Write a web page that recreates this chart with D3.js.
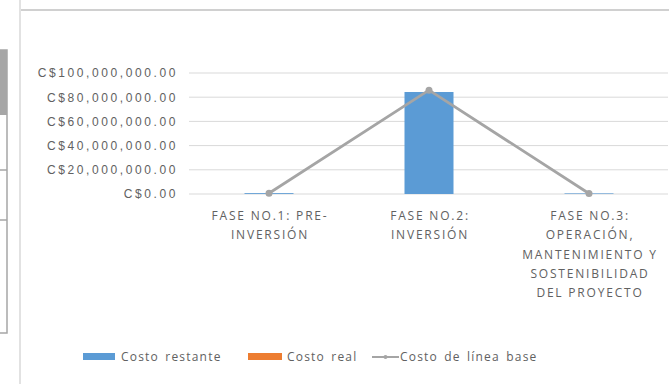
<!DOCTYPE html>
<html><head><meta charset="utf-8">
<script src="https://cdn.jsdelivr.net/npm/d3@7"></script>
<style>
html,body{margin:0;padding:0;background:#fff;}
svg{display:block;font-family:"Open Sans",sans-serif;}
</style></head>
<body>
<svg id="c" width="669" height="384"></svg>
<script>
const categories = ["FASE NO.1: PRE-INVERSIÓN","FASE NO.2: INVERSIÓN","FASE NO.3: OPERACIÓN, MANTENIMIENTO Y SOSTENIBILIDAD DEL PROYECTO"];
const categoryLabelLines = [
  ["FASE NO.1: PRE-","INVERSIÓN"],
  ["FASE NO.2:","INVERSIÓN"],
  ["FASE NO.3:","OPERACIÓN,","MANTENIMIENTO Y","SOSTENIBILIDAD","DEL PROYECTO"]
];
const costoRestante = [700000, 84300000, 500000];
const costoReal = [0, 0, 0];
const costoLineaBase = [600000, 85800000, 400000];
const yTicks = [0, 20000000, 40000000, 60000000, 80000000, 100000000];
const seriesNames = ["Costo restante","Costo real","Costo de línea base"];
const colors = ["#5b9bd5","#ed7d31","#a5a5a5"];

const svg = d3.select("#c");
const textColor = "#616161";

// outer frame / neighbouring element fragments
svg.append("line").attr("x1",20).attr("x2",20).attr("y1",0).attr("y2",384).attr("stroke","#d9d9d9").attr("stroke-width",1.5);
svg.append("line").attr("x1",21).attr("x2",669).attr("y1",10).attr("y2",10).attr("stroke","#d0d0d0").attr("stroke-width",2);
svg.append("rect").attr("x",-1).attr("y",50).attr("width",8).attr("height",283).attr("fill","#fff").attr("stroke","#a6a6a6").attr("stroke-width",1.5);
svg.append("rect").attr("x",-1).attr("y",50).attr("width",8).attr("height",65).attr("fill","#a6a6a6");
[170,220].forEach(yy=>svg.append("line").attr("x1",0).attr("x2",7).attr("y1",yy).attr("y2",yy).attr("stroke","#a6a6a6").attr("stroke-width",1.5));

const x = d3.scaleBand().domain(categories).range([189,669]).paddingInner(0).paddingOuter(0);
const y = d3.scaleLinear().domain([0,100000000]).range([194,73]);
const barW = 49;

// gridlines
svg.append("g").selectAll("line").data(yTicks).join("line")
  .attr("x1",189).attr("x2",668).attr("y1",d=>y(d)).attr("y2",d=>y(d))
  .attr("stroke","#d9d9d9").attr("stroke-width",1);

// y axis labels
const fmt = d => "C$" + d3.format(",.2f")(d);
const yAxis = d3.axisLeft(y).tickValues(yTicks).tickFormat(fmt).tickSize(0).tickPadding(0);
const gy = svg.append("g").attr("transform","translate(178,0)").call(yAxis);
gy.select(".domain").remove();
gy.selectAll("text").attr("fill",textColor).style("font-size","12px").style("letter-spacing","2.6px");

// stacked bars
const rows = categories.map((c,i)=>({cat:c, restante:costoRestante[i], real:costoReal[i]}));
const stack = d3.stack().keys(["restante","real"])(rows);
svg.append("g").selectAll("g").data(stack).join("g").attr("fill",(d,i)=>colors[i])
  .selectAll("rect").data(d=>d).join("rect")
  .attr("x",d=>x(d.data.cat)+x.bandwidth()/2-barW/2)
  .attr("width",barW)
  .attr("y",d=>y(d[1]))
  .attr("height",d=>Math.max(0,y(d[0])-y(d[1])) || (d[1]>d[0]?1.5:0));

// baseline line
const pts = categories.map((c,i)=>[x(c)+x.bandwidth()/2, y(costoLineaBase[i])]);
svg.append("path").attr("d",d3.line()(pts)).attr("fill","none").attr("stroke",colors[2]).attr("stroke-width",2.75).attr("stroke-linejoin","round");
svg.append("g").selectAll("circle").data(pts).join("circle")
  .attr("cx",d=>d[0]).attr("cy",d=>d[1]).attr("r",3.5).attr("fill",colors[2]);

// x labels
const gx = svg.append("g");
categories.forEach((c,i)=>{
  const cx = x(c)+x.bandwidth()/2 + 1;
  const t = gx.append("text").attr("x",cx).attr("y",220)
    .attr("text-anchor","middle").attr("fill",textColor).style("font-size","12px").style("letter-spacing","1.8px");
  categoryLabelLines[i].forEach((ln,j)=>{
    t.append("tspan").attr("x",cx).attr("y",220+j*19.3).text(ln);
  });
});

// legend
const lg = svg.append("g").style("font-size","12px").attr("fill",textColor);
const legendItems = [
  {sx:83, sw:32, tx:121, type:"bar"},
  {sx:248, sw:34, tx:287, type:"bar"},
  {sx:372, sw:27, tx:400, type:"line"}
];
legendItems.forEach((it,i)=>{
  if(it.type==="bar"){
    lg.append("rect").attr("x",it.sx).attr("y",353).attr("width",it.sw).attr("height",7).attr("fill",colors[i]);
  } else {
    lg.append("line").attr("x1",it.sx).attr("x2",it.sx+it.sw).attr("y1",357).attr("y2",357).attr("stroke",colors[i]).attr("stroke-width",2);
    lg.append("circle").attr("cx",it.sx+it.sw/2).attr("cy",357).attr("r",2).attr("fill",colors[i]);
  }
  lg.append("text").attr("x",it.tx).attr("y",361).text(seriesNames[i]).attr("fill",textColor)
    .style("letter-spacing","1.2px").style("word-spacing","2px");
});
</script>
</body></html>
